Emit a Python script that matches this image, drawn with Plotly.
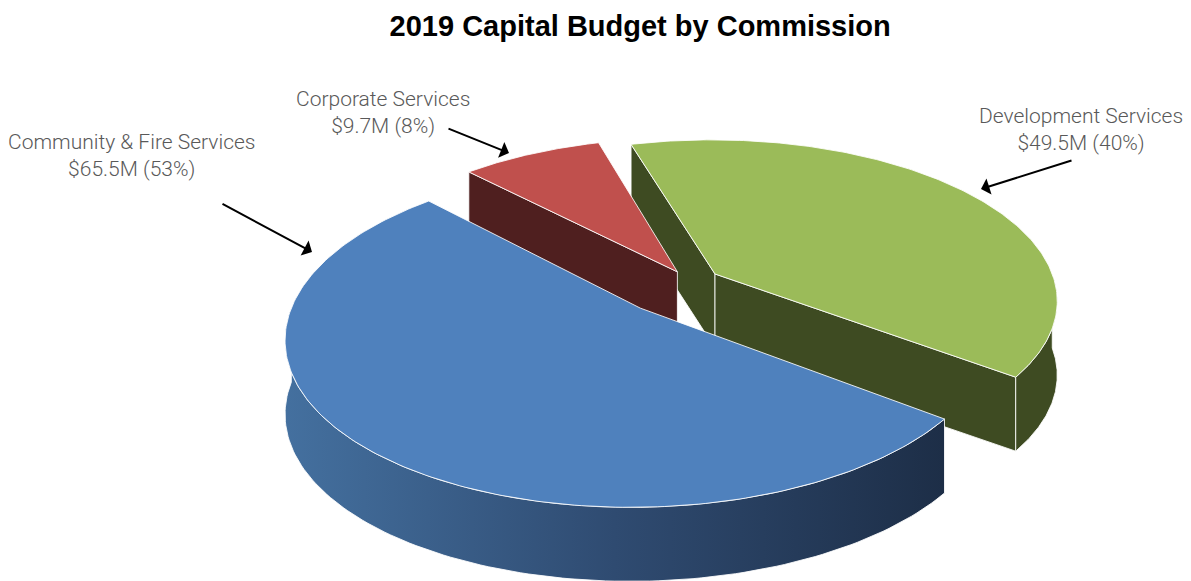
import numpy as np
import plotly.graph_objects as go

# Capital budget by commission (millions of dollars), listed clockwise from 12 o'clock
categories = ["Development Services", "Community & Fire Services", "Corporate Services"]
budget_m = [49.5, 65.5, 9.7]
share_pct = [40, 53, 8]

# Slice styling
top_colors = ["#9bbb59", "#4f81bd", "#c0504d"]
side_colors = ["#3e4b22", "#2f4c72", "#4f1f1f"]
blue_side_scale = [[0.0, "#44709f"], [0.5, "#2f4b71"], [1.0, "#1d2e47"]]
explode = [0.09, 0.215, 0.075]
start_angle = -16.0          # degrees, clockwise from 12 o'clock

# Simple perspective projection of a tilted disc
CX, CY = 690.0, 282.0        # centre of the disc (px)
RX, RY = 340.0, 158.0        # horizontal / vertical radius (px)
PERSP = 6.25                 # camera distance in radius units
DEPTH = 74.0                 # thickness of the disc (px)
EDGE = dict(color="rgba(255,255,255,0.85)", width=1)


def project(X, Z, drop=0.0):
    s = PERSP / (PERSP + np.asarray(Z))
    return CX + RX * np.asarray(X) * s, CY - RY * np.asarray(Z) * s + drop * DEPTH


def ground(apex, theta_deg, r=1.0):
    t = np.radians(theta_deg)
    return apex[0] + r * np.sin(t), apex[1] + r * np.cos(t)


total = sum(budget_m)
spans = [v / total * 360.0 for v in budget_m]
bounds = []
a = start_angle
for sp in spans:
    bounds.append((a, a + sp))
    a += sp

apexes = []
for (t0, t1), e in zip(bounds, explode):
    m = np.radians((t0 + t1) / 2)
    apexes.append((e * np.sin(m), e * np.cos(m)))

fig = go.Figure()


def add_poly(xs, ys, color, name, gradient=None, hover=None):
    kw = dict(fillcolor=color)
    if gradient is not None:
        kw = dict(fillgradient=dict(type="horizontal", colorscale=gradient))
    fig.add_trace(go.Scatter(
        x=np.append(xs, xs[0]), y=np.append(ys, ys[0]), mode="lines",
        fill="toself", line=EDGE, name=name, showlegend=False,
        hoverinfo="text" if hover else "skip", text=hover, hoveron="fills", **kw))


def side_faces(i):
    t0, t1 = bounds[i]
    apex = apexes[i]
    name = categories[i]
    grad = blue_side_scale if i == 1 else None
    # radial face at the start of the slice
    if np.sin(np.radians(t0)) < 0:
        gx, gz = ground(apex, t0)
        X = [apex[0], gx, gx, apex[0]]
        Z = [apex[1], gz, gz, apex[1]]
        x, y = project(X, Z, np.array([0, 0, 1, 1]))
        add_poly(x, y, side_colors[i], name)
    # radial face at the end of the slice
    if np.sin(np.radians(t1)) > 0:
        gx, gz = ground(apex, t1)
        X = [apex[0], gx, gx, apex[0]]
        Z = [apex[1], gz, gz, apex[1]]
        x, y = project(X, Z, np.array([0, 0, 1, 1]))
        add_poly(x, y, side_colors[i], name)
    # curved outer wall, front half only
    lo, hi = max(t0, 90.0), min(t1, 270.0)
    if hi > lo:
        th = np.linspace(lo, hi, 120)
        gx, gz = ground(apex, th)
        xt, yt = project(gx, gz, 0)
        xb, yb = project(gx, gz, 1)
        add_poly(np.concatenate([xt, xb[::-1]]), np.concatenate([yt, yb[::-1]]),
                 side_colors[i], name, gradient=grad)


def top_face(i):
    t0, t1 = bounds[i]
    apex = apexes[i]
    th = np.linspace(t0, t1, 200)
    gx, gz = ground(apex, th)
    X = np.concatenate([[apex[0]], gx])
    Z = np.concatenate([[apex[1]], gz])
    x, y = project(X, Z, 0)
    hover = f"{categories[i]}<br>${budget_m[i]}M ({share_pct[i]}%)"
    add_poly(x, y, top_colors[i], categories[i], hover=hover)


for i in [0, 2, 1]:
    side_faces(i)
for i in [2, 0, 1]:
    top_face(i)

# Data labels with leader arrows
label_pos = {
    "Development Services": (1081, 129),
    "Community & Fire Services": (131, 155),
    "Corporate Services": (383, 112),
}
arrow_pos = {
    "Development Services": ((1073, 160), (981, 189)),
    "Community & Fire Services": ((221, 203), (312, 252)),
    "Corporate Services": ((447, 128), (509, 153)),
}
annotations = []
for cat, val, pct in zip(categories, budget_m, share_pct):
    lx, ly = label_pos[cat]
    annotations.append(dict(
        x=lx, y=ly, xref="x", yref="y", showarrow=False,
        text=f"{cat}<br>${val}M ({pct}%)", align="center",
        font=dict(family="Roboto", size=21, color="#595959", weight=300)))
    (tx, ty), (hx, hy) = arrow_pos[cat]
    annotations.append(dict(
        x=hx, y=hy, ax=tx, ay=ty, xref="x", yref="y", axref="x", ayref="y",
        text="", showarrow=True, arrowhead=1, arrowsize=1.4, arrowwidth=2,
        arrowcolor="#000000", standoff=0, startstandoff=0))

fig.update_layout(
    width=1191, height=581,
    margin=dict(l=0, r=0, t=0, b=0),
    paper_bgcolor="white", plot_bgcolor="white",
    title=dict(text="<b>2019 Capital Budget by Commission</b>",
               x=0.5375, xanchor="center", xref="container",
               y=0.955, yanchor="middle", yref="container",
               font=dict(family="Arial, Liberation Sans", size=29, color="#000000")),
    xaxis=dict(range=[0, 1191], visible=False, fixedrange=True),
    yaxis=dict(range=[581, 0], visible=False, fixedrange=True),
    annotations=annotations,
    showlegend=False,
)

fig.write_html("out.html")
